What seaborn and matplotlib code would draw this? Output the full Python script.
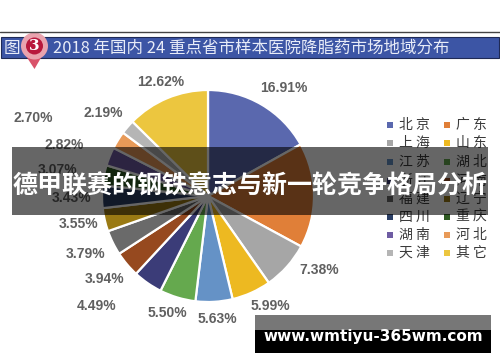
import matplotlib
matplotlib.use('Agg')
import matplotlib.pyplot as plt
from matplotlib.patches import Rectangle, Circle, Polygon
import seaborn as sns

# slices clockwise from 12 o'clock
regions = ['北京', '广东', '上海', '山东', '江苏', '湖北', '浙江', '河南',
           '福建', '辽宁', '四川', '重庆', '湖南', '河北', '天津', '其它']
shares = [16.91, 15.99, 7.38, 5.99, 5.63, 5.50, 4.49, 3.94,
          3.79, 3.55, 3.43, 3.07, 2.82, 2.70, 2.19, 12.62]
share_labels = ['16.91%', '', '7.38%', '5.99%', '5.63%', '5.50%', '4.49%', '3.94%',
                '3.79%', '3.55%', '3.43%', '3.07%', '2.82%', '2.70%', '2.19%', '12.62%']
colors = ['#5a68ae', '#e07f38', '#a6a6a6', '#edb921', '#6592c6', '#65a94e', '#3b3c78', '#96491f',
          '#6a6a6a', '#9a7a14', '#2b3f66', '#2f5a22', '#6e5ca3', '#e89a58', '#b5b5b5', '#ecc63f']

title = '2018 年国内 24 重点省市样本医院降脂药市场地域分布'
banner = '德甲联赛的钢铁意志与新一轮竞争格局分析'
site = 'www.wmtiyu-365wm.com'

sns.set_theme(style='white')
plt.rcParams['font.family'] = ['Liberation Sans', 'Noto Sans CJK SC', 'DejaVu Sans']

H = 362


def py(y):
    # picture rows run downwards
    return H - y


fig = plt.figure(figsize=(5, 3.62), dpi=100)
ax = fig.add_axes([0, 0, 1, 1])

ax.pie(shares, colors=colors, startangle=90, counterclock=False,
       center=(208, py(196)), radius=106, frame=True,
       wedgeprops={'edgecolor': 'white', 'linewidth': 1.6})
ax.set_xlim(0, 500)
ax.set_ylim(0, H)
ax.set_aspect('auto')
ax.axis('off')

# percent labels, placed where the chart has them
label_x = [284, 0, 319, 270, 217, 167, 97, 105, 86, 79, 72, 58, 64, 33, 103, 161]
label_y = [88, 0, 270, 306, 319, 313, 306, 279, 254, 224, 198, 170, 145, 118, 113, 82]
for txt, x, y in zip(share_labels, label_x, label_y):
    if txt:
        ax.text(x, py(y), txt, fontsize=10, color='#444444', ha='center', va='center',
                fontweight='bold', alpha=0.85)

# legend, two columns
rows_y = [125, 143, 162, 181, 199, 217, 235, 253]
for i, (name, col) in enumerate(zip(regions, colors)):
    row = i // 2
    side = i % 2
    x0 = 390 + side * 57
    ax.add_patch(Rectangle((x0 - 2.75, py(rows_y[row]) - 2.75), 5.5, 5.5, color=col, lw=0))
    ax.text(x0 + 9, py(rows_y[row]), name[0] + ' ' + name[1], fontsize=10, color='#3a3a3a',
            va='center', ha='left', fontweight='medium',
            family=['Noto Sans CJK SC', 'DejaVu Sans'])

# title strip
ax.plot([0, 500], [py(31.5), py(31.5)], color='#444444', lw=1)
ax.add_patch(Rectangle((1, py(58)), 498, 21, facecolor='#3c55a5', edgecolor='#1f2a55', lw=0.8))
ax.text(4, py(48), '图', fontsize=12, color='#e8ecf8', va='center', ha='left',
        family=['Noto Sans CJK SC', 'DejaVu Sans'])
ax.text(53, py(48), title, fontsize=11.9, color='#e8ecf8', va='center', ha='left',
        family=['Noto Sans CJK SC', 'DejaVu Sans'])

# map pin with the number
ax.add_patch(Polygon([(26, py(56)), (42, py(56)), (34.5, py(69))], color='#d9536a', lw=0))
ax.add_patch(Circle((34.5, py(46)), 13.5, color='#e9a3ae', lw=0))
ax.add_patch(Circle((34.5, py(46)), 8.5, color='#b8183c', lw=0))
ax.text(34.5, py(46), '3', fontsize=11, color='white', fontweight='bold', ha='center',
        va='center', family='DejaVu Serif')

# overlay banner
ax.add_patch(Rectangle((12, py(215)), 476, 68, facecolor='black', alpha=0.6, lw=0, zorder=5))
ax.text(250, py(186), banner, fontsize=18, color='white', fontweight='bold', ha='center',
        va='center', zorder=6, family=['Noto Sans CJK SC', 'DejaVu Sans'])

# site box
ax.add_patch(Rectangle((255, py(330)), 236, 15, facecolor='#777777', lw=0, zorder=5))
ax.add_patch(Rectangle((255, py(353)), 236, 23, facecolor='black', lw=0, zorder=5))
ax.text(373, py(337), site, fontsize=11, color='white', fontweight='bold', ha='center',
        va='center', zorder=6, family='DejaVu Sans')

fig.savefig('out.png', dpi=100, facecolor='white')
